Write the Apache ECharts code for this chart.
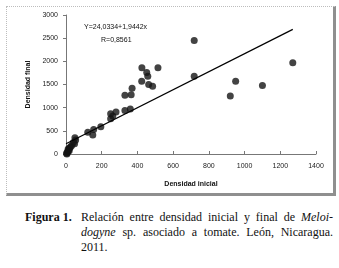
<!DOCTYPE html>
<html>
<head>
<meta charset="utf-8">
<script src="https://cdn.jsdelivr.net/npm/echarts@6/dist/echarts.min.js"></script>
<style>
  html, body { margin: 0; padding: 0; background: #fff; }
  #wrap { position: relative; width: 339px; height: 268px; overflow: hidden; }
  #frame { position: absolute; left: 6px; top: 6px; width: 326px; height: 186px;
    border-left: 1px dotted #bdbdbd; border-top: 1px dotted #bdbdbd;
    border-right: 3px solid #8f8f8f; border-bottom: 3px solid #8f8f8f; }
  #chart { position: absolute; left: 0; top: 0; width: 339px; height: 200px; }
  .cap { position: absolute; font-family: "Liberation Serif", "Times New Roman", serif; font-size: 12px; color: #111; line-height: 15px; }
  #fig { left: 25px; top: 210px; font-weight: bold; }
  #txt { left: 81px; top: 210px; width: 252px; }
  #txt div { text-align: justify; text-align-last: justify; white-space: nowrap; }
  #txt div.last { text-align-last: left; }
</style>
</head>
<body>
<div id="wrap">
  <div id="frame"></div>
  <div id="chart"></div>
  <div class="cap" id="fig">Figura 1.</div>
  <div class="cap" id="txt">
    <div>Relación entre densidad inicial y final de <i>Meloi-</i></div>
    <div><i>dogyne</i> sp. asociado a tomate. León, Nicaragua.</div>
    <div class="last">2011.</div>
  </div>
</div>
<script>
  // densidad inicial / densidad final
  const densInicial = [
    718, 718, 1270, 950, 1100, 920,
    425, 515, 452, 458, 424, 463, 485, 370, 365, 330,
    360, 330, 280, 250, 250, 262,
    195, 155, 150, 122, 50, 54, 41, 32, 48,
    20, 15, 10, 8, 5, 3, 12, 25, 18
  ];
  const densFinal = [
    2450, 1680, 1970, 1570, 1480, 1250,
    1860, 1860, 1760, 1680, 1570, 1500, 1460, 1420, 1280, 1270,
    970, 940, 905, 870, 760, 820,
    590, 530, 410, 470, 350, 300, 250, 185, 220,
    130, 90, 60, 30, 0, 15, 110, 150, 70
  ];
  const lineX = [0, 1270];
  const lineY = [220, 2690];
  const xTicks = { min: 0, max: 1400, interval: 200 };
  const yTicks = { min: 0, max: 3000, interval: 500 };

  const font = "Liberation Sans";
  const plain = (v) => String(v);
  const chart = echarts.init(document.getElementById("chart"));
  chart.setOption({
    animation: false,
    textStyle: { fontFamily: font },
    grid: { left: 66, right: 23, top: 15, bottom: 46 },
    xAxis: {
      type: "value", min: xTicks.min, max: xTicks.max, interval: xTicks.interval,
      name: "Densidad inicial", nameLocation: "middle", nameGap: 27,
      nameTextStyle: { fontSize: 7, fontWeight: "bold", color: "#111", fontFamily: font },
      axisLine: { lineStyle: { color: "#777", width: 1 } },
      axisTick: { inside: true, length: 3, lineStyle: { color: "#777" } },
      axisLabel: { fontSize: 7, color: "#222", margin: 9, fontFamily: font, formatter: plain },
      splitLine: { show: false }
    },
    yAxis: {
      type: "value", min: yTicks.min, max: yTicks.max, interval: yTicks.interval,
      name: "Densidad final", nameLocation: "middle", nameGap: 33, nameRotate: 90,
      nameTextStyle: { fontSize: 7, fontWeight: "bold", color: "#111", fontFamily: font },
      axisLine: { show: true, lineStyle: { color: "#777", width: 1 } },
      axisTick: { show: true, length: 3, lineStyle: { color: "#777" } },
      axisLabel: { fontSize: 7, color: "#222", margin: 8, fontFamily: font, formatter: plain },
      splitLine: { show: false }
    },
    series: [
      {
        type: "scatter", symbolSize: 7,
        itemStyle: { color: "#141414" },
        data: densInicial.map((x, i) => [x, densFinal[i]])
      },
      {
        type: "line", showSymbol: false, symbol: "none",
        lineStyle: { color: "#000", width: 1.2 },
        data: lineX.map((x, i) => [x, lineY[i]])
      }
    ],
    graphic: [
      { type: "text", left: 84, top: 24, style: { text: "Y=24,0334+1,9442x", fontSize: 7, fill: "#111", fontFamily: font } },
      { type: "text", left: 101, top: 37, style: { text: "R=0,8561", fontSize: 7, fill: "#111", fontFamily: font } }
    ]
  });
</script>
</body>
</html>
